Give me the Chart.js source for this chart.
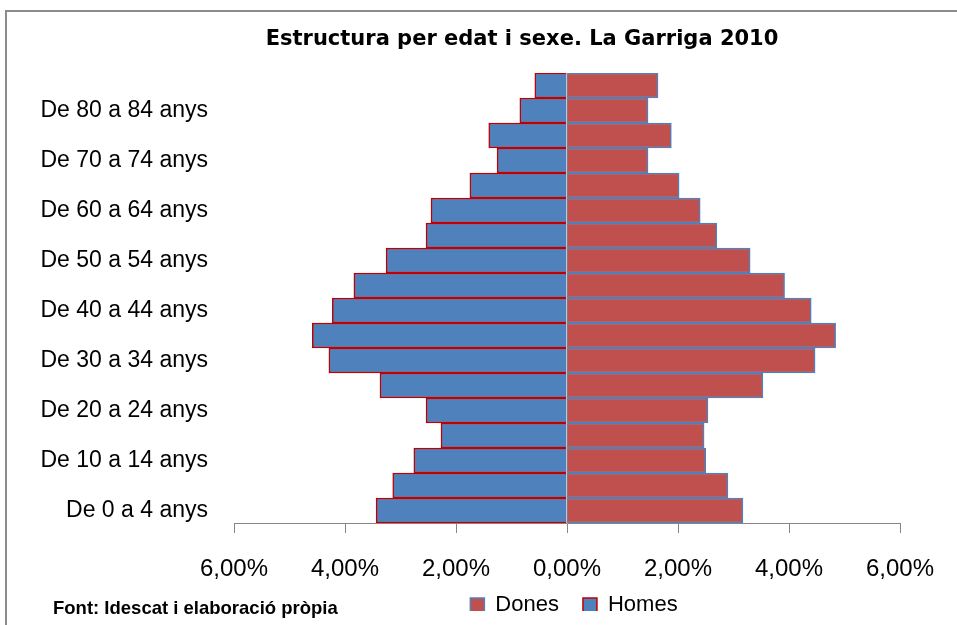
<!DOCTYPE html>
<html><head><meta charset="utf-8">
<script src="https://cdn.jsdelivr.net/npm/chart.js@4/dist/chart.umd.min.js"></script>
<style>
html,body{margin:0;padding:0;background:#fff;overflow:hidden}
#wrap{position:relative;width:957px;height:625px;overflow:hidden;background:#fff}
#frame{position:absolute;left:5px;top:10px;width:2000px;height:2000px;border-left:2px solid #8c8c8c;border-top:2px solid #8c8c8c;pointer-events:none}
#title{position:absolute;left:0;width:1044px;top:28px;line-height:21px;text-align:center;font-weight:bold;font-size:21px;font-family:"DejaVu Sans",sans-serif;color:#000;white-space:nowrap}
#src{position:absolute;left:53px;top:599px;line-height:18.5px;font-weight:bold;font-size:18.5px;font-family:"Liberation Sans",Arial,sans-serif;color:#000;white-space:nowrap}
canvas{position:absolute;left:0;top:0}
</style></head><body>
<div id="wrap">
<div id="frame"></div>
<canvas id="c" width="957" height="625"></canvas>
<div id="title">Estructura per edat i sexe. La Garriga 2010</div>
<div id="src">Font: Idescat i elaboració pròpia</div>
</div>
<script>
const ageGroups = ["De 0 a 4 anys","De 5 a 9 anys","De 10 a 14 anys","De 15 a 19 anys","De 20 a 24 anys","De 25 a 29 anys","De 30 a 34 anys","De 35 a 39 anys","De 40 a 44 anys","De 45 a 49 anys","De 50 a 54 anys","De 55 a 59 anys","De 60 a 64 anys","De 65 a 69 anys","De 70 a 74 anys","De 75 a 79 anys","De 80 a 84 anys","De 85 anys i més"];
const dones = [3.17,2.90,2.50,2.47,2.54,3.53,4.47,4.84,4.40,3.92,3.30,2.70,2.40,2.02,1.46,1.88,1.46,1.64];
const homes = [3.44,3.14,2.76,2.27,2.54,3.37,4.29,4.59,4.23,3.84,3.26,2.54,2.45,1.75,1.26,1.41,0.85,0.58];
const xMin = -6, xMax = 6, xStep = 2;

const AXIS = '#868686';
const legendShift = {
  id: 'legendShift',
  afterLayout(chart) {
    const lg = chart.legend; if (!lg) return;
    lg.left += 7; lg.right += 7;
    lg.top -= 14; lg.bottom -= 14;
  }
};

new Chart(document.getElementById('c'), {
  type: 'bar',
  data: {
    labels: ageGroups,
    datasets: [
      { label: 'Dones', data: dones, backgroundColor: '#C0504D', borderColor: '#4F81BD', borderWidth: 1.5 },
      { label: 'Homes', data: homes.map(v => -v), backgroundColor: '#4F81BD', borderColor: '#C00000', borderWidth: 1.5 }
    ]
  },
  options: {
    indexAxis: 'y',
    responsive: false,
    animation: false,
    events: [],
    layout: { padding: { top: 73, left: 0, right: 57, bottom: 0 } },
    datasets: { bar: { categoryPercentage: 1.0, barPercentage: 1.0 } },
    scales: {
      x: {
        stacked: true, min: xMin, max: xMax,
        ticks: { stepSize: xStep, padding: 22, color: '#000',
          font: { family: '"Liberation Sans", Arial, sans-serif', size: 24 },
          callback: v => Math.abs(v).toFixed(2).replace('.', ',') + '%' },
        grid: { drawOnChartArea: true, tickLength: 10, tickColor: AXIS,
          color: c => (c.tick && c.tick.value === 0) ? AXIS : 'rgba(0,0,0,0)' },
        border: { display: true, color: AXIS, width: 1 },
        afterFit: s => { s.height = 61; }
      },
      y: {
        stacked: true, reverse: true,
        grid: { display: false },
        border: { display: false },
        ticks: { autoSkip: false, padding: 18, color: '#000',
          font: { family: '"Liberation Sans", Arial, sans-serif', size: 23 },
          callback: function(v, i) { return i % 2 === 0 ? ageGroups[i] : ''; } },
        afterFit: s => { s.width = 234; }
      }
    },
    plugins: {
      title: { display: false },
      tooltip: { enabled: false },
      legend: {
        position: 'bottom', fullSize: false, maxHeight: 41,
        labels: { boxWidth: 14, boxHeight: 14, padding: 24, color: '#000',
          font: { family: '"Liberation Sans", Arial, sans-serif', size: 22 } }
      }
    }
  },
  plugins: [legendShift]
});
</script>
</body></html>
